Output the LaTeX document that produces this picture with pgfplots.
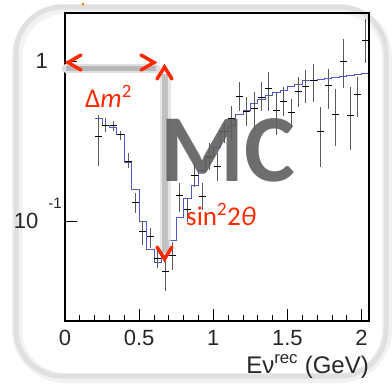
\documentclass[border=0pt]{standalone}
\usepackage{pgfplots}
\pgfplotsset{compat=1.18}
\usepackage{pgfplotstable}
\usepackage{fontspec}
\setmainfont{Liberation Sans}
\newfontfamily\calfont{Carlito}
\definecolor{histblue}{RGB}{80,90,200}
\definecolor{annred}{RGB}{255,40,0}

\pgfplotstableread{
x      y      ep     em
0.225  0.34   0.126  0.118
0.275  0.40   0.047  0.035
0.325  0.40   0.030  0.030
0.375  0.35   0.020  0.025
0.425  0.238  0.032  0.020
0.475  0.132  0.019  0.018
0.525  0.087  0.013  0.015
0.575  0.081  0.011  0.012
0.625  0.0595 0.0075 0.008
0.675  0.049  0.009  0.012
0.725  0.062  0.013  0.012
0.775  0.147  0.028  0.032
0.825  0.119  0.021  0.019
0.875  0.194  0.040  0.028
0.925  0.144  0.031  0.026
0.975  0.252  0.058  0.042
1.025  0.222  0.048  0.042
1.075  0.367  0.049  0.055
1.125  0.445  0.085  0.120
1.175  0.61   0.14   0.12
1.225  0.49   0.11   0.09
1.275  0.51   0.14   0.134
1.325  0.60   0.15   0.11
1.375  0.68   0.19   0.19
1.425  0.50   0.15   0.15
1.475  0.565  0.135  0.105
1.525  0.48   0.11   0.095
1.575  0.65   0.15   0.13
1.625  0.70   0.19   0.15
1.675  0.77   0.20   0.21
1.725  0.37   0.15   0.15
1.775  0.71   0.19   0.20
1.825  0.47   0.21   0.17
1.875  1.00   0.38   0.31
1.925  0.46   0.24   0.18
1.975  0.63   0.17   0.18
2.025  1.37   0.48   0.38
}\datatable

\pgfplotstableread{
x     y
0.20  0.44
0.25  0.40
0.30  0.39
0.35  0.35
0.40  0.235
0.45  0.159
0.50  0.100
0.55  0.067
0.60  0.056
0.65  0.062
0.70  0.077
0.75  0.106
0.80  0.140
0.85  0.170
0.90  0.210
0.95  0.255
1.00  0.290
1.05  0.366
1.10  0.400
1.15  0.470
1.20  0.500
1.25  0.550
1.30  0.580
1.35  0.620
1.40  0.640
1.45  0.660
1.50  0.700
1.55  0.720
1.60  0.760
1.65  0.770
1.70  0.780
1.75  0.790
1.80  0.800
1.85  0.810
1.90  0.820
1.95  0.840
2.00  0.850
2.05  1.000
2.10  1.000
}\histtable

\begin{document}
\begin{tikzpicture}
\begin{scope}[x=1pt,y=1pt]
\useasboundingbox (0,0) rectangle (392,-384);
% rounded frame with soft shadow
\draw[line width=10pt, black!5, rounded corners=48pt] (17,-9) rectangle (387,-378);
\draw[line width=5pt, black!12, rounded corners=46pt] (16,-7) rectangle (386,-376);
\fill[orange] (83,-4) circle (1.5);
\end{scope}

\begin{axis}[
  at={(65pt,-321pt)}, anchor=south west,
  scale only axis, width=304pt, height=308pt,
  xmin=0, xmax=2.05, ymode=log, ymin=0.024, ymax=2.02,
  axis line style={line width=1.6pt},
  tick align=inside, tick pos=left,
  major tick length=12pt, minor tick length=6pt,
  every tick/.style={black, line width=0.8pt},
  xtick={0,0.5,1,1.5,2}, minor x tick num=4,
  ytick={0.1},
  yticklabels={{10\hspace{10pt}\raisebox{20pt}{\fontsize{15}{15}\selectfont -1}}},
  extra y ticks={1},
  extra y tick labels={1},
  extra y tick style={yticklabel style={xshift=-14pt}},
  tick label style={font=\fontsize{22}{26}\selectfont, text=black!85},
  /pgf/number format/assume math mode=true,
  xticklabel style={anchor=north, inner sep=0pt, yshift=-9pt},
  yticklabel style={anchor=base east, inner sep=0pt, xshift=-3pt, yshift=-7pt},
  xlabel={Eν\textsuperscript{rec} (GeV)},
  xlabel style={at={(rel axis cs:1,0)}, anchor=base east, yshift=-52pt, inner sep=0pt, font=\fontsize{24}{26}\selectfont, text=black!85},
  axis on top,
]
\addplot[const plot, color=histblue, line width=0.9pt, mark=none] table[x=x,y=y] {\histtable};
\addplot[draw=none, mark=-, mark size=3.5pt, mark options={black, line width=0.8pt},
  error bars/.cd, y dir=both, y explicit, error mark=none,
  error bar style={black!65, line width=1pt}]
  table[x=x, y=y, y error plus=ep, y error minus=em] {\datatable};
\end{axis}

\begin{scope}[x=1pt,y=1pt]
% gray L guide lines
\draw[line width=9pt, black!12, line cap=round] (66,-68) -- (156,-68);
\draw[line width=5pt, black!28] (66,-68) -- (156,-68);
\draw[line width=11pt, black!12, opacity=0.8] (165,-74) -- (165,-253);
\draw[line width=6pt, black!28, opacity=0.8] (165,-74) -- (165,-253);
% MC
\node[anchor=base west, inner sep=0pt, text depth=0pt, text=black!63, opacity=0.9, font=\calfont\bfseries\fontsize{96}{96}\selectfont] at (160,-181) {MC};
% red arrows
\begin{scope}[annred, line width=3.5pt, line cap=round, line join=miter]
\draw (81,-55) -- (68,-62.5) -- (81,-70);
\draw (141,-55) -- (154,-62.5) -- (141,-70);
\draw (157,-79) -- (164.5,-67) -- (172,-79);
\draw (157,-247) -- (164.5,-259) -- (172,-247);
\end{scope}
\node[anchor=base west, inner sep=0pt, text=annred, font=\calfont\fontsize{27}{27}\selectfont] at (85,-107) {Δ\textit{m}\textsuperscript{2}};
\node[anchor=base west, inner sep=0pt, text=annred, font=\calfont\fontsize{27}{27}\selectfont] at (186,-225) {sin\textsuperscript{2}2\textit{θ}};
\end{scope}
\end{tikzpicture}
\end{document}
